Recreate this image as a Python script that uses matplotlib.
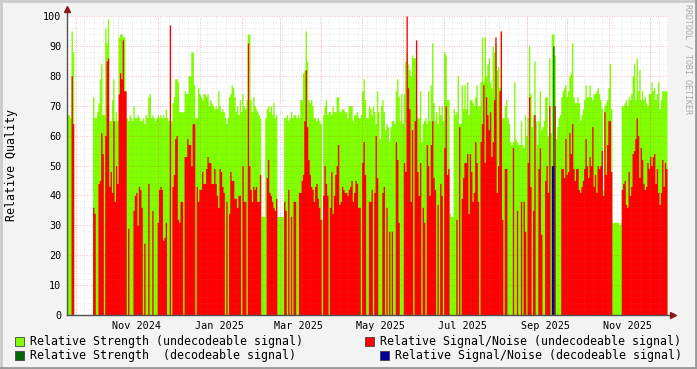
import numpy as np
import pandas as pd
import matplotlib
matplotlib.use('Agg')
import matplotlib.pyplot as plt
import matplotlib.dates as mdates
from matplotlib.patches import Rectangle

nan = np.nan

# one value per day, first day 2024-09-24
start = pd.Timestamp('2024-09-24')

strength_undecodeable = [
    67, 67, 66, 95, 88, nan, nan, nan, nan, nan,
    nan, nan, nan, nan, nan, nan, nan, nan, nan, 73,
    66, 66, 68, 71, 79, 84, 67, 67, 96, 91,
    99, 65, 65, 72, 79, 65, 68, 65, 93, 94,
    94, 93, 93, 66, 66, 65, 67, 66, 65, 70,
    66, 66, 67, 66, 65, 65, 66, 64, 67, 66,
    73, 74, 66, 67, 66, 65, 66, 67, 66, 67,
    66, 67, 66, 69, 66, 65, 65, 65, 71, 73,
    79, 79, 78, 68, 68, 68, 68, 75, 74, 74,
    80, 80, 88, 88, 77, 66, 66, 76, 74, 73,
    72, 74, 74, 73, 74, 70, 72, 71, 70, 69,
    70, 69, 75, 70, 68, 69, 68, 66, 64, 66,
    73, 74, 77, 76, 73, 68, 70, 67, 72, 68,
    74, 70, 69, 72, 94, 94, 72, 68, 73, 70,
    69, 68, 67, 66, 33, 33, 33, 66, 69, 70,
    68, 70, 67, 71, 66, 67, 33, 33, 33, 33,
    33, 66, 66, 67, 65, 66, 68, 66, 67, 67,
    66, 67, 66, 72, 72, 81, 82, 95, 85, 72,
    71, 72, 70, 66, 66, 65, 66, 65, 64, 32,
    67, 70, 72, 67, 68, 68, 67, 70, 68, 68,
    73, 73, 68, 68, 69, 69, 68, 68, 66, 70,
    70, 70, 65, 67, 67, 68, 66, 66, 67, 75,
    79, 72, 66, 66, 70, 69, 67, 70, 68, 64,
    75, 68, 59, 70, 72, 68, 62, 64, 63, 58,
    63, 65, 65, 64, 75, 79, 73, 65, 74, 64,
    74, 85, 88, 84, 82, 80, 87, 86, 86, 70,
    66, 66, 75, 58, 64, 65, 66, 64, 75, 65,
    77, 91, 71, 65, 68, 64, 70, 67, 70, 65,
    88, 87, 72, 72, 34, 33, 33, 69, 67, 68,
    80, 64, 64, 77, 69, 77, 69, 78, 67, 72,
    72, 71, 70, 73, 77, 70, 70, 78, 93, 78,
    93, 80, 84, 86, 78, 76, 90, 88, 91, 82,
    83, 76, 95, 66, 66, 70, 72, 66, 64, 58,
    57, 58, 78, 59, 58, 57, 57, 65, 57, 56,
    67, 60, 66, 90, 74, 63, 67, 85, 65, 57,
    65, 75, 62, 63, 65, 73, 73, 60, 86, 61,
    94, 94, 87, 59, 63, 66, 67, 73, 75, 76,
    77, 73, 75, 80, 81, 91, 73, 71, 71, 73,
    71, 65, 67, 69, 72, 77, 73, 73, 77, 73,
    72, 74, 74, 75, 76, 74, 72, 69, 42, 70,
    71, 72, 76, 84, 69, 31, 31, 31, 31, 31,
    30, 31, 70, 70, 71, 72, 70, 73, 72, 74,
    80, 84, 72, 86, 75, 82, 72, 75, 72, 73,
    71, 70, 74, 74, 78, 75, 76, 72, 74, 78,
    69, 72, 75, 75, 75, 75,
]

snr_undecodeable = [
    0, 0, 0, 80, 64, nan, nan, nan, nan, nan,
    nan, nan, nan, nan, nan, nan, nan, nan, nan, 36,
    34, 0, 0, 44, 45, 61, 54, 0, 60, 85,
    86, 43, 48, 41, 65, 38, 50, 44, 74, 81,
    79, 92, 75, 75, 0, 29, 0, 0, 0, 35,
    40, 41, 30, 43, 42, 36, 0, 24, 0, 0,
    44, 0, 0, 35, 0, 0, 0, 31, 42, 43,
    42, 25, 26, 31, 0, 0, 97, 0, 43, 47,
    59, 60, 32, 31, 38, 38, 0, 53, 53, 59,
    57, 57, 50, 64, 64, 0, 43, 38, 42, 42,
    48, 44, 44, 49, 53, 51, 51, 44, 44, 49,
    44, 40, 36, 49, 48, 43, 41, 0, 38, 0,
    34, 48, 45, 45, 39, 39, 36, 40, 40, 0,
    50, 38, 38, 0, 91, 50, 42, 38, 43, 42,
    43, 38, 38, 47, 0, 0, 0, 0, 46, 52,
    41, 40, 38, 36, 35, 39, 0, 0, 0, 0,
    0, 38, 35, 0, 42, 0, 33, 0, 38, 38,
    0, 0, 41, 41, 45, 47, 65, 82, 63, 52,
    47, 43, 42, 38, 43, 44, 39, 36, 32, 0,
    40, 50, 44, 40, 0, 36, 48, 34, 40, 47,
    50, 57, 37, 38, 43, 42, 41, 41, 40, 42,
    43, 45, 38, 41, 45, 44, 36, 36, 0, 51,
    58, 47, 0, 0, 38, 38, 42, 0, 41, 60,
    46, 0, 0, 0, 41, 43, 0, 36, 0, 28,
    0, 28, 0, 0, 58, 52, 31, 0, 0, 0,
    51, 48, 100, 76, 69, 38, 62, 0, 65, 92,
    48, 40, 51, 0, 36, 31, 0, 57, 50, 40,
    57, 65, 46, 42, 0, 37, 0, 44, 40, 0,
    56, 70, 47, 49, 0, 0, 0, 0, 0, 32,
    0, 63, 0, 39, 46, 51, 51, 54, 34, 54,
    48, 38, 41, 58, 51, 38, 0, 58, 64, 77,
    51, 73, 67, 62, 68, 53, 58, 72, 93, 41,
    50, 75, 95, 32, 0, 49, 49, 0, 0, 0,
    0, 56, 0, 0, 35, 0, 0, 38, 0, 38,
    28, 0, 51, 73, 43, 0, 35, 67, 0, 0,
    49, 56, 27, 0, 0, 45, 50, 41, 70, 0,
    0, 0, 70, 0, 0, 0, 0, 49, 49, 46,
    59, 47, 48, 61, 54, 64, 49, 45, 49, 49,
    42, 41, 43, 45, 49, 59, 50, 46, 53, 50,
    63, 43, 47, 41, 50, 49, 50, 55, 40, 68,
    47, 57, 65, 65, 48, 0, 0, 0, 0, 0,
    0, 0, 42, 44, 45, 37, 36, 48, 40, 43,
    54, 55, 59, 66, 60, 46, 56, 52, 44, 42,
    43, 51, 49, 53, 50, 53, 54, 44, 49, 41,
    37, 41, 52, 43, 51, 49,
]

# the few days with a decodeable signal (day index from start)
decode_days = [360, 361]
decode_strength = [0, 90]
decode_snr = [50, 50]

legend_labels = [
    'Relative Strength (undecodeable signal)',
    'Relative Signal/Noise (undecodeable signal)',
    'Relative Strength  (decodeable signal)',
    'Relative Signal/Noise (decodeable signal)',
]
legend_colors = ['#80FF00', '#FF0000', '#006600', '#000099']

mono = 'DejaVu Sans Mono'
n = len(strength_undecodeable)
days = pd.date_range(start, periods=n, freq='D')
x = mdates.date2num(days)
edges = np.append(x, x[-1] + 1)

dec_str = np.zeros(n)
dec_snr = np.zeros(n)
dec_str[decode_days] = decode_strength
dec_snr[decode_days] = decode_snr

W, H = 697, 369
fig = plt.figure(figsize=(W / 100, H / 100), dpi=100, facecolor='#F3F3F3')
ax = fig.add_axes([67 / W, 54 / H, 600 / W, 299 / H])
ax.set_facecolor('white')


def area(vals, color, z):
    v = np.nan_to_num(np.asarray(vals, dtype=float))
    ax.fill_between(edges, np.append(v, v[-1]), step='post', color=color,
                    linewidth=0, zorder=z)


area(strength_undecodeable, legend_colors[0], 1)
area(snr_undecodeable, legend_colors[1], 1.1)
area(dec_str, legend_colors[2], 1.2)
area(dec_snr, legend_colors[3], 1.3)

ax.set_xlim(edges[0], edges[-1])
ax.set_ylim(0, 100)

# grid, drawn on top of the areas like rrdtool does
minor_c = (0.5, 0.5, 0.5, 0.22)
major_c = (0.85, 0.2, 0.2, 0.32)
dots = (0, (1, 1.5))
for yv in range(2, 101, 2):
    if yv % 10:
        ax.axhline(yv, color=minor_c, lw=0.6, ls=dots, zorder=3)
for yv in range(10, 101, 10):
    ax.axhline(yv, color=major_c, lw=0.7, ls=dots, zorder=3)
for d in pd.date_range(start, days[-1], freq='W-MON'):
    ax.axvline(mdates.date2num(d), color=minor_c, lw=0.6, ls=dots, zorder=3)
for d in pd.date_range('2024-10-01', days[-1], freq='MS'):
    ax.axvline(mdates.date2num(d), color=major_c, lw=0.7, ls=dots, zorder=3)

# labels centred in their month
label_months = pd.date_range('2024-11-01', '2025-11-01', freq='2MS')
ax.set_xticks(mdates.date2num(label_months + pd.Timedelta(days=14)))
ax.set_xticklabels([m.strftime('%b %Y') for m in label_months],
                   fontfamily=mono, fontsize=7.3)
ax.set_yticks(range(0, 101, 10))
ax.set_yticklabels([str(v) for v in range(0, 101, 10)],
                   fontfamily=mono, fontsize=7.3)
ax.tick_params(length=0, pad=4)

for s in ['top', 'right', 'left', 'bottom']:
    ax.spines[s].set_visible(False)
axis_c = '#505050'
ax.plot([0, 1.01], [0, 0], transform=ax.transAxes, color=axis_c, lw=1,
        clip_on=False, zorder=5)
ax.plot([0, 0], [0, 1.02], transform=ax.transAxes, color=axis_c, lw=1,
        clip_on=False, zorder=5)
ax.plot([1.01], [0], marker='>', ms=4, color='#8B1A1A', transform=ax.transAxes,
        clip_on=False, zorder=6)
ax.plot([0], [1.025], marker='^', ms=4, color='#8B1A1A', transform=ax.transAxes,
        clip_on=False, zorder=6)

fig.text(12 / W, 1 - 165 / H, 'Relative Quality', rotation=90, ha='center',
         va='center', fontfamily=mono, fontsize=8.4)
fig.text(688 / W, 1 - 4 / H, 'RRDTOOL / TOBI OETIKER', rotation=270,
         ha='center', va='top', fontfamily=mono, fontsize=6, color='#A8A8A8')

# legend
legend_pos = [(15, 341), (365, 341), (15, 355), (380, 355)]
for (lx, ly), lab, col in zip(legend_pos, legend_labels, legend_colors):
    fig.patches.append(Rectangle((lx / W, 1 - (ly + 4.5) / H), 9 / W, 9 / H,
                                 transform=fig.transFigure, facecolor=col,
                                 edgecolor='#444444', lw=0.6))
    fig.text((lx + 15) / W, 1 - ly / H, lab, ha='left', va='center',
             fontfamily=mono, fontsize=8.35)

# image frame
fig.add_artist(plt.Line2D([0, 1], [1 - 1 / H, 1 - 1 / H], color='#CBCBCB', lw=2,
                          transform=fig.transFigure))
fig.add_artist(plt.Line2D([1 / W, 1 / W], [0, 1], color='#CBCBCB', lw=2,
                          transform=fig.transFigure))
fig.add_artist(plt.Line2D([0, 1], [1 / H, 1 / H], color='#999999', lw=2,
                          transform=fig.transFigure))
fig.add_artist(plt.Line2D([1 - 1 / W, 1 - 1 / W], [0, 1], color='#999999', lw=2,
                          transform=fig.transFigure))

fig.savefig('out.png', dpi=100, facecolor=fig.get_facecolor())
